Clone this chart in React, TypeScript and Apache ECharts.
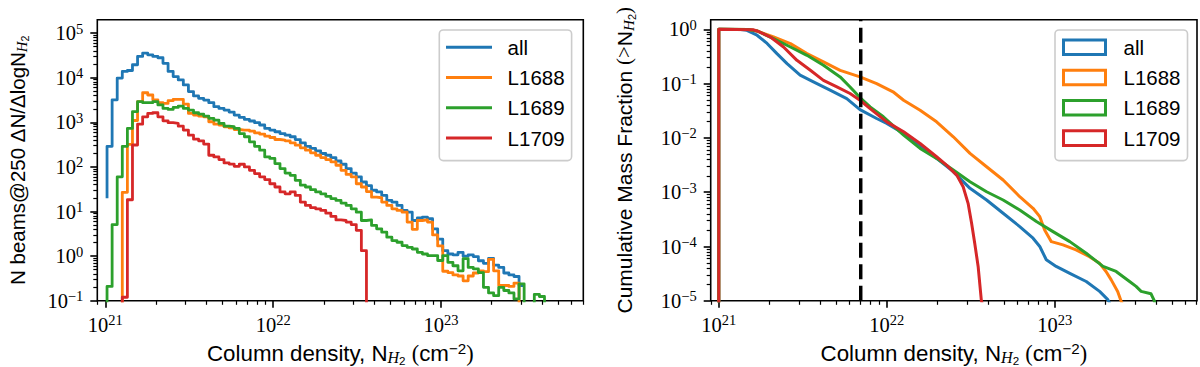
import React, { useEffect, useRef } from "react";
import * as echarts from "echarts";

// ---------- identity ----------
const seriesNames = ["all", "L1688", "L1689", "L1709"];
const seriesColors = ["#1f77b4", "#ff7f0e", "#2ca02c", "#d62728"];

// ---------- left panel: histogram, log-spaced bins ----------
const histBinStartLog = 21.01; // log10 of first bin edge (cm^-2)
const histBinWidthLog = 0.0303; // bin width in dex
const histStartValues = [20, 0, 0, 0]; // value at the first edge (step start point)

const histAll = [
  290, 3200, 9800, 13800, 14500, 19500, 30000, 35500, 32500, 30000,
  28000, 21000, 13800, 10600, 8900, 6900, 4900, 3900, 3450, 3150,
  2750, 2240, 2050, 1880, 1700, 1450, 1290, 1160, 1070, 980,
  870, 730, 670, 615, 560, 515, 475, 410, 345, 290,
  260, 230, 200, 183, 162, 136, 115, 92, 73, 60,
  46, 38, 30, 27.5, 23, 17.8, 16.3, 13.7, 10.6, 9.7,
  6.3, 7.2, 7.5, 6.9, 4.1, 2.4, 1.33, 1.12, 1.07, 1.22,
  1.0, 1.07, 0.98, 0.79, 0.69, 0.89, 0.63, 0.56, 0.42, 0.38,
  0.35, 0.22,
];
const histL1688 = [
  0, 0, 0, 27, 320, 1100, 2900, 4600, 4100, 3200,
  2750, 2650, 3050, 3270, 3270, 2570, 1580, 1450, 1380, 1330,
  1030, 910, 870, 795, 750, 690, 670, 670, 635, 580,
  545, 490, 457, 412, 400, 385, 347, 308, 268, 237,
  207, 183, 162, 146, 130, 109, 84, 68, 60, 42,
  35.5, 28, 21, 20.4, 16.3, 13.7, 11.5, 10.6, 9.7, 5.8,
  4.0, 6.3, 6.5, 5.8, 3.0, 1.7, 0.46, 0.43, 0.38, 0.36,
  0.28, 0.36, 0.42, 0.47, 0.45, 0.85, 0.47, 0.22, 0.22, 0.21,
  0.25, 0,
];
const histL1689 = [
  0.21, 5.1, 60, 290, 730, 1740, 2900, 2750, 2750, 2900,
  2450, 2050, 1950, 2160, 2300, 2050, 1880, 1640, 1530, 1380,
  1230, 1120, 945, 820, 800, 730, 560, 475, 365, 290,
  237, 168, 155, 119, 92, 73, 65, 50, 39, 35.5,
  31, 27.5, 25, 22, 19.5, 17.8, 15.5, 13.7, 11.5, 9.7,
  6.3, 6.5, 4.9, 4.1, 3.45, 2.66, 2.24, 2.05, 1.73, 1.58,
  1.45, 1.22, 1.12, 1.03, 1.03, 0.8, 1.03, 0.73, 0.61, 0.47,
  0.88, 0.56, 0.52, 0.43, 0.2, 0.15, 0.13, 0.2, 0.17, 0.15,
  0.11, 0.24, 0, 0, 0.14, 0.125, 0,
];
const histL1709 = [
  0, 0, 0, 0.12, 18.4, 310, 910, 1330, 1580, 1640,
  1330, 1080, 980, 945, 820, 670, 515, 420, 385, 325,
  183, 168, 146, 123, 116, 103, 115, 100, 84, 71,
  60, 52, 42, 35.5, 27.5, 25, 27.5, 23, 16.3, 13.7,
  12.2, 11.5, 10.6, 9.2, 7.8, 6.5, 6.3, 5.8, 5.1, 3.8,
  1.33, 0,
];

// ---------- right panel: cumulative mass fraction ----------
const cumAllN = [
  1e21, 1e21, 1.35e21, 1.47e21, 1.69e21, 1.94e21, 2.22e21, 2.55e21, 3.05e21, 3.66e21,
  4.6e21, 5.78e21, 6.93e21, 8.71e21, 1.0e22, 1.26e22, 1.58e22, 1.98e22, 2.49e22, 3.13e22,
  3.93e22, 4.93e22, 6.19e22, 7.43e22, 8.15e22, 8.91e22, 1.02e23, 1.23e23, 1.54e23, 1.85e23,
  2.07e23, 2.13e23,
];
const cumAllF = [
  0, 1.0, 0.995, 0.96, 0.78, 0.55, 0.357, 0.234, 0.143, 0.108,
  0.076, 0.053, 0.0333, 0.0228, 0.0185, 0.0121, 0.00738, 0.0042, 0.00239, 0.00118,
  0.00072, 0.00041, 0.000233, 0.000142, 0.0001, 5.7e-5, 4.3e-5, 3.2e-5, 2.27e-5, 1.49e-5,
  1.05e-5, 9e-6,
];
const cumL1688N = [
  1e21, 1e21, 1.5e21, 1.69e21, 2.12e21, 2.67e21, 3.35e21, 4.2e21, 5.28e21, 6.93e21,
  8.71e21, 1.09e22, 1.26e22, 1.58e22, 1.98e22, 2.49e22, 3.13e22, 3.93e22, 4.93e22, 6.19e22,
  7.43e22, 8.15e22, 8.71e22, 9.55e22, 1.12e23, 1.34e23, 1.61e23, 1.85e23, 2.02e23, 2.17e23,
  2.37e23, 2.48e23, 2.52e23,
];
const cumL1688F = [
  0, 1.0, 0.99, 0.935, 0.723, 0.546, 0.357, 0.251, 0.176, 0.133,
  0.1, 0.0708, 0.0495, 0.0324, 0.0198, 0.0105, 0.00519, 0.00295, 0.00168, 0.000826,
  0.000506, 0.000355, 0.000202, 0.000123, 0.000107, 8.7e-5, 6.5e-5, 4.9e-5, 3.47e-5, 2.43e-5,
  1.49e-5, 1.0e-5, 9e-6,
];
const cumL1689N = [
  1e21, 1e21, 1.5e21, 1.69e21, 2.12e21, 2.67e21, 3.35e21, 4.2e21, 5.28e21, 6.05e21,
  6.93e21, 7.96e21, 9.55e21, 1.26e22, 1.58e22, 1.98e22, 2.49e22, 3.13e22, 3.93e22, 4.93e22,
  6.19e22, 7.78e22, 9.77e22, 1.23e23, 1.54e23, 1.94e23, 2.32e23, 2.79e23, 3.05e23, 3.27e23,
  3.74e23, 3.92e23, 3.95e23,
];
const cumL1689F = [
  0, 1.0, 0.99, 0.935, 0.675, 0.473, 0.333, 0.218, 0.133, 0.087,
  0.0555, 0.0373, 0.0245, 0.0113, 0.0064, 0.0042, 0.00256, 0.00156, 0.00102, 0.00072,
  0.00047, 0.000288, 0.000188, 0.000123, 7.5e-5, 4.3e-5, 3.47e-5, 2.27e-5, 1.84e-5, 1.49e-5,
  1.35e-5, 1.0e-5, 9e-6,
];
const cumL1709N = [
  1e21, 1e21, 1.6e21, 1.69e21, 2.03e21, 2.43e21, 2.92e21, 3.51e21, 4.2e21, 5.05e21,
  6.05e21, 6.93e21, 7.96e21, 1.0e22, 1.26e22, 1.58e22, 1.98e22, 2.27e22, 2.61e22, 2.85e22,
  3.05e22, 3.2e22, 3.34e22, 3.5e22, 3.66e22, 3.7e22,
];
const cumL1709F = [
  0, 1.0, 0.985, 0.935, 0.723, 0.473, 0.269, 0.176, 0.115, 0.087,
  0.0658, 0.0495, 0.0348, 0.0198, 0.013, 0.0079, 0.0045, 0.00316, 0.00207, 0.00126,
  0.000625, 0.000268, 0.000115, 4.3e-5, 1.0e-5, 9e-6,
];
const thresholdN = 7e21;

// ---------- ticks (exponents of ten) ----------
const xTickExps = [21, 22, 23];
const histTickExps = [-1, 0, 1, 2, 3, 4, 5];
const cumTickExps = [-5, -4, -3, -2, -1, 0];

// axis limits in log10 space
const X_MIN = 20.952;
const X_MAX = 23.847;
const HIST_Y_MIN = -1;
const HIST_Y_MAX = 5.3;
const CUM_Y_MIN = -5;
const CUM_Y_MAX = 0.178;

const serifFont = "'Liberation Serif', 'Times New Roman', serif";
const sansFont = "'Liberation Sans', Arial, sans-serif";

const lg = (v: number, floor: number) => (v > 0 ? Math.log10(v) : floor);

function minorTicks(lo: number, hi: number): number[] {
  const out: number[] = [];
  for (let n = Math.floor(lo) - 1; n <= Math.ceil(hi); n++) {
    for (let k = 2; k <= 9; k++) {
      const v = n + Math.log10(k);
      if (v >= lo && v <= hi) out.push(v);
    }
  }
  return out;
}

function histPoints(start: number, values: number[]): number[][] {
  const pts: number[][] = [[histBinStartLog, lg(start, -3)]];
  values.forEach((v, i) => {
    const e0 = histBinStartLog + i * histBinWidthLog;
    pts.push([e0, lg(v, -3)], [e0 + histBinWidthLog, lg(v, -3)]);
  });
  return pts;
}

function cumPoints(ns: number[], fs: number[]): number[][] {
  return ns.map((n, i) => [Math.log10(n), lg(fs[i], -8)]);
}

const expLabel = (v: number) => {
  const e = Math.round(v);
  const s = e < 0 ? "\u2212" + Math.abs(e) : String(e);
  return `{b|10}{s|${s}}`;
};

const tickRich = {
  b: { fontFamily: serifFont, fontSize: 20.5, lineHeight: 24, color: "#000" },
  s: { fontFamily: serifFont, fontSize: 14.5, lineHeight: 13, verticalAlign: "top", color: "#000" },
};

const NAME_LH = 26;
function nameRich(fs: number) {
  return {
    a: { fontFamily: sansFont, fontSize: fs, lineHeight: NAME_LH, color: "#000" },
    m: { fontFamily: serifFont, fontSize: fs, lineHeight: NAME_LH, color: "#000" },
    h: {
      fontFamily: serifFont, fontStyle: "italic", fontSize: fs * 0.72, lineHeight: 15,
      verticalAlign: "bottom", padding: [0, 0, 0.8, 0], color: "#000",
    },
    t: {
      fontFamily: sansFont, fontSize: fs * 0.52, lineHeight: 8,
      verticalAlign: "bottom", color: "#000",
    },
    p: {
      fontFamily: sansFont, fontSize: fs * 0.68, lineHeight: 11,
      verticalAlign: "top", color: "#000",
    },
  };
}

const xName = "{a|Column density, N}{h|H}{t|2}{a| }{m|(}{a|cm}{p|\u22122}{m|)}";
const histYName = "{a|N beams@250 \u0394N/\u0394logN}{h|H}{t|2}";
const cumYName = "{a|Cumulative Mass Fraction }{m|(>}{a|N}{h|H}{t|2}{m|)}";

function xAxes(gridIndex: number) {
  return [
    {
      type: "value", gridIndex, min: X_MIN, max: X_MAX, position: "bottom",
      axisLine: { show: false, onZero: false }, splitLine: { show: false },
      axisTick: { show: true, length: 7, lineStyle: { color: "#000", width: 1.6 }, customValues: xTickExps },
      axisLabel: {
        show: true, customValues: xTickExps, formatter: expLabel, rich: tickRich,
        margin: 12, lineHeight: 24, color: "#000",
      },
      name: xName, nameLocation: "middle", nameGap: 40, nameMoveOverlap: false,
      nameTextStyle: { rich: nameRich(22.3), lineHeight: NAME_LH },
    },
    {
      type: "value", gridIndex, min: X_MIN, max: X_MAX, position: "bottom", offset: 0,
      axisLine: { show: false, onZero: false }, splitLine: { show: false }, axisLabel: { show: false },
      axisTick: { show: true, length: 4, lineStyle: { color: "#000", width: 1.2 }, customValues: minorTicks(X_MIN, X_MAX) },
    },
  ];
}

function yAxes(gridIndex: number, min: number, max: number, ticks: number[], name: string, nameGap: number, fs: number) {
  return [
    {
      type: "value", gridIndex, min, max, position: "left",
      axisLine: { show: false, onZero: false }, splitLine: { show: false },
      axisTick: { show: true, length: 7, lineStyle: { color: "#000", width: 1.6 }, customValues: ticks },
      axisLabel: {
        show: true, customValues: ticks, formatter: expLabel, rich: tickRich,
        margin: 14, lineHeight: 24, color: "#000",
      },
      name, nameLocation: "middle", nameGap, nameMoveOverlap: false,
      nameTextStyle: { rich: nameRich(fs), lineHeight: NAME_LH },
    },
    {
      type: "value", gridIndex, min, max, position: "left", offset: 0,
      axisLine: { show: false, onZero: false }, splitLine: { show: false }, axisLabel: { show: false },
      axisTick: { show: true, length: 4, lineStyle: { color: "#000", width: 1.2 }, customValues: minorTicks(min, max) },
    },
  ];
}

function legendBase(left: number) {
  return {
    orient: "vertical", left, top: 30, itemGap: 9.3,
    backgroundColor: "rgba(255,255,255,0.8)", borderColor: "#cccccc", borderWidth: 1.6, borderRadius: 4,
    selectedMode: false,
  };
}

export default function App() {
  const ref = useRef<HTMLDivElement>(null);

  useEffect(() => {
    if (!ref.current) return;
    const chart = echarts.init(ref.current, undefined, { renderer: "svg" });

    const histData = [histAll, histL1688, histL1689, histL1709];
    const cumData = [
      [cumAllN, cumAllF],
      [cumL1688N, cumL1688F],
      [cumL1689N, cumL1689F],
      [cumL1709N, cumL1709F],
    ];

    const series: any[] = [];
    seriesNames.forEach((name, i) => {
      series.push({
        type: "line", name, xAxisIndex: 0, yAxisIndex: 0,
        data: histPoints(histStartValues[i], histData[i]),
        symbol: "none", showSymbol: false, clip: true,
        lineStyle: { color: seriesColors[i], width: 2.8, join: "round" },
        itemStyle: { color: seriesColors[i] },
      });
    });
    seriesNames.forEach((name, i) => {
      series.push({
        type: "line", name, xAxisIndex: 2, yAxisIndex: 2,
        data: cumPoints(cumData[i][0], cumData[i][1]),
        symbol: "none", showSymbol: false, clip: true,
        lineStyle: { color: seriesColors[i], width: 3, join: "round" },
        itemStyle: { color: seriesColors[i] },
      });
    });
    series.push({
      type: "line", name: "threshold", xAxisIndex: 2, yAxisIndex: 2,
      data: [[Math.log10(thresholdN), CUM_Y_MIN], [Math.log10(thresholdN), CUM_Y_MAX]],
      symbol: "none", showSymbol: false, clip: true, z: 5,
      lineStyle: { color: "#000", width: 3.5, type: [15, 6.5] },
    });

    const gridCommon = {
      show: true, borderColor: "#000", borderWidth: 1.6, backgroundColor: "transparent",
      containLabel: false, outerBoundsMode: "none",
    };

    const option: any = {
      animation: false,
      grid: [
        { ...gridCommon, left: 97.3, top: 19.7, width: 486, height: 281.1 },
        { ...gridCommon, left: 710.7, top: 19.7, width: 486.3, height: 281.1 },
      ],
      xAxis: [...xAxes(0), ...xAxes(1)],
      yAxis: [
        ...yAxes(0, HIST_Y_MIN, HIST_Y_MAX, histTickExps, histYName, 66.6, 20.5),
        ...yAxes(1, CUM_Y_MIN, CUM_Y_MAX, cumTickExps, cumYName, 73.5, 21),
      ],
      legend: [
        {
          ...legendBase(439.3),
          padding: [6.7, 7, 12, 6.7],
          itemWidth: 46, itemHeight: 3,
          data: seriesNames.map((n, i) => ({
            name: n, icon: "rect", itemStyle: { color: seriesColors[i], borderWidth: 0 },
          })),
          textStyle: { fontFamily: sansFont, fontSize: 20.5, lineHeight: 20, color: "#000", padding: [0, 0, 0, 10.6] },
        },
        {
          ...legendBase(1055),
          padding: [6.7, 7, 12, 7],
          itemWidth: 42, itemHeight: 14.6,
          data: seriesNames.map((n, i) => ({
            name: n, icon: "rect",
            itemStyle: { color: "rgba(0,0,0,0)", borderColor: seriesColors[i], borderWidth: 3 },
          })),
          textStyle: { fontFamily: sansFont, fontSize: 20.5, lineHeight: 20, color: "#000", padding: [0, 0, 0, 13] },
        },
      ],
      series,
    };

    chart.setOption(option);
    return () => chart.dispose();
  }, []);

  return (
    <div
      ref={ref}
      style={{ position: "absolute", left: 0, top: 0, width: 1200, height: 367, background: "#fff" }}
    />
  );
}
